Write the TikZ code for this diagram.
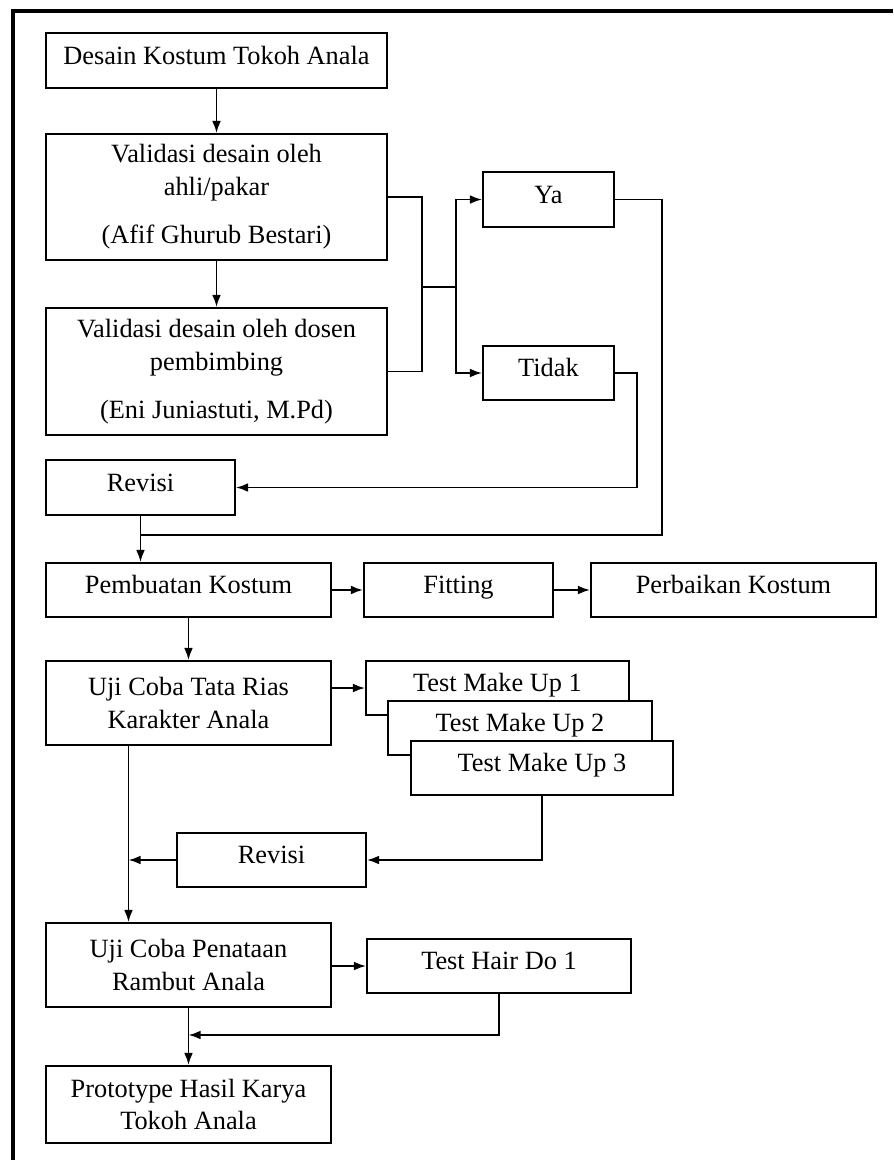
\documentclass[tikz,border=0pt]{standalone}
\usepackage{fontspec}
\setmainfont{Liberation Serif}
\usetikzlibrary{arrows.meta}

\begin{document}
\begin{tikzpicture}[x=0.016cm, y=-0.016cm, >={Latex[length=5.5pt, width=4pt]},
	font=\fontsize{12}{15}\selectfont,
	box/.style 2 args={draw, line width=0.9pt, fill=white, align=center, inner sep=2pt,
		minimum width=#1*0.016cm, minimum height=#2*0.016cm},
	oneline/.style={text height=8.5pt, text depth=5pt},
	link/.style={line width=0.8pt}]
\useasboundingbox (0,0) rectangle (893,1160);
% frame
\draw[line width=1.6pt] (13,1160) -- (13,11) -- (893,11);

%========================
% Design and validation
%========================
\node[box={341}{55}, oneline] (desain) at (216.5,60.5) {Desain Kostum Tokoh Anala};
\node[box={341}{126}] (ahli) at (216.5,197) {Validasi desain oleh\\ ahli/pakar\\[7pt] (Afif Ghurub Bestari)};
\node[box={341}{127}] (dosen) at (216.5,371.5) {Validasi desain oleh dosen\\ pembimbing\\[7pt] (Eni Juniastuti, M.Pd)};
\node[box={131}{55}, oneline] (ya) at (548.5,199.5) {Ya};
\node[box={131}{54}, oneline] (tidak) at (548.5,373) {Tidak};
\node[box={189}{55}, oneline] (revisiA) at (140.5,487.5) {Revisi};

\draw[->, link] (desain) -- (ahli);
\draw[->, link] (ahli) -- (dosen);
% bracket to Ya / Tidak
\coordinate (vj) at (422,287);
\coordinate (yt) at (456,287);
\draw[link] (ahli.east) -| (vj) |- (dosen.east);
\draw[link] (vj) -- (yt);
\draw[->, link] (yt) |- (ya.west);
\draw[->, link] (yt) |- (tidak.west);
% Tidak goes back to revision, Ya goes on
\coordinate (tk) at (637,487.5);
\draw[->, link] (tidak.east) -| (tk) -- (revisiA.east);
\coordinate (yk) at (662,535);
\coordinate (rj) at (140.5,535);
\draw[link] (ya.east) -| (yk) -- (rj);

%========================
% Costume
%========================
\node[box={285}{54}, oneline] (buat) at (188.5,590) {Pembuatan Kostum};
\node[box={189}{54}, oneline] (fitting) at (458.5,590) {Fitting};
\node[box={285}{54}, oneline] (perbaikan) at (733.5,590) {Perbaikan Kostum};

\draw[->, link] (revisiA) -- (revisiA.south |- buat.north);
\draw[->, link] (buat) -- (fitting);
\draw[->, link] (fitting) -- (perbaikan);

%========================
% Make up trials
%========================
\node[box={285}{84}] (rias) at (188.5,703) {Uji Coba Tata Rias\\ Karakter Anala};
\node[box={263}{54}, oneline] (mu1) at (497.5,688) {Test Make Up 1};
\node[box={264}{54}, oneline] (mu2) at (520,728) {Test Make Up 2};
\node[box={262}{54}, oneline] (mu3) at (542,768) {Test Make Up 3};
\node[box={189}{54}, oneline] (revisiB) at (271.5,860) {Revisi};

\draw[->, link] (buat) -- (rias);
\draw[->, link] (rias.east |- mu1.west) -- (mu1.west);
\draw[->, link] (mu3.south) |- (revisiB.east);

%========================
% Hair do
%========================
\node[box={285}{84}] (rambut) at (188.5,965) {Uji Coba Penataan\\ Rambut Anala};
\node[box={264}{54}, oneline] (hair) at (499,966) {Test Hair Do 1};
\node[box={285}{77}] (proto) at (188.5,1104.5) {Prototype Hasil Karya\\ Tokoh Anala};

\coordinate (rk) at (128.5,745);
\draw[->, link] (rk) -- (rk |- rambut.north);
\draw[->, link] (revisiB.west) -- (revisiB.west -| rk);
\draw[->, link] (rambut.east |- hair.west) -- (hair.west);
\coordinate (hj) at (188.5,1035);
\draw[->, link] (hair.south) |- (hj);
\draw[->, link] (rambut) -- (proto);
\end{tikzpicture}
\end{document}
